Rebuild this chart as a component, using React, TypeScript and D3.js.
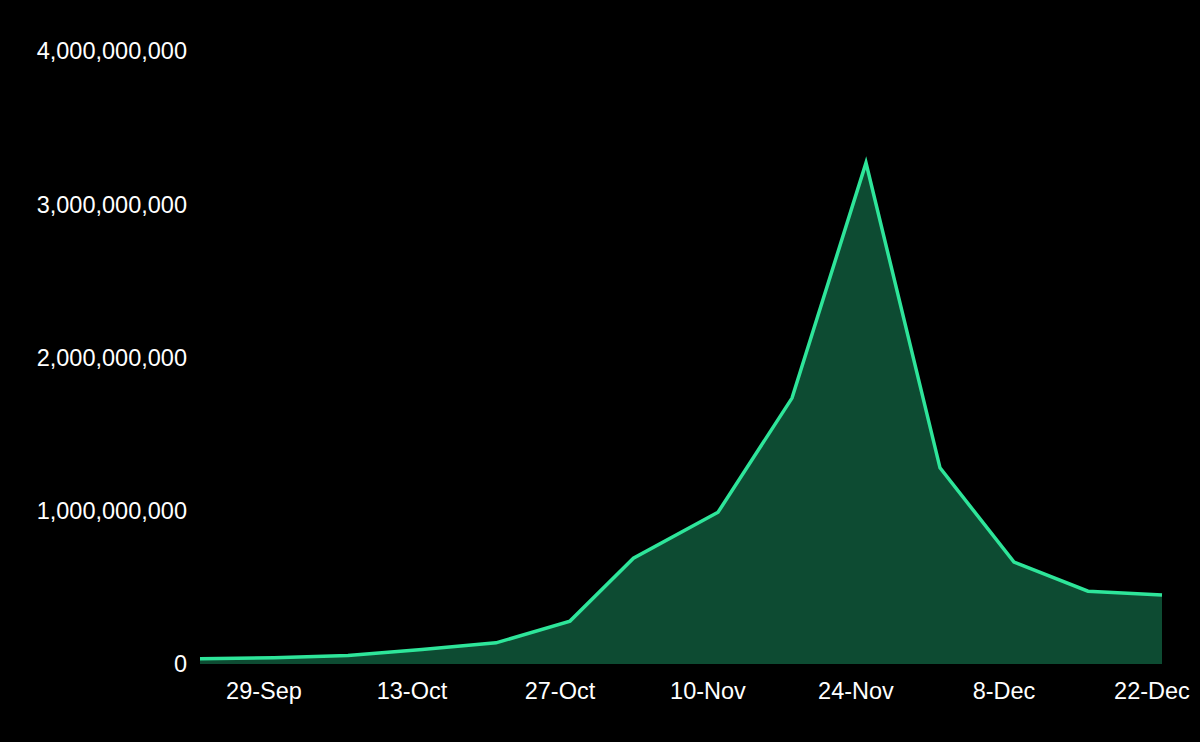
import React from "react";
import * as d3 from "d3";

const dates = [
  "2019-09-22", "2019-09-29", "2019-10-06", "2019-10-13", "2019-10-20", "2019-10-27",
  "2019-11-02", "2019-11-10", "2019-11-17", "2019-11-24", "2019-12-01", "2019-12-08",
  "2019-12-15", "2019-12-22",
];
const values = [
  35e6, 40e6, 55e6, 95e6, 138e6, 280e6, 690e6, 990e6, 1735e6, 3270e6, 1280e6, 665e6, 475e6, 450e6,
];
const xTickDates = ["2019-09-29", "2019-10-13", "2019-10-27", "2019-11-10", "2019-11-24", "2019-12-08", "2019-12-22"];
const yTicks = [0, 1e9, 2e9, 3e9, 4e9];

const W = 1200;
const H = 742;

export default function App() {
  const parse = d3.utcParse("%Y-%m-%d");
  const data = dates.map((d, i) => ({ date: parse(d) as Date, value: values[i] }));
  const x = d3
    .scaleUtc()
    .domain([parse(dates[0]) as Date, parse(dates[dates.length - 1]) as Date])
    .range([200, 1162]);
  const y = d3.scaleLinear().domain([0, 4e9]).range([664, 51]);
  const area = d3
    .area<{ date: Date; value: number }>()
    .x((d) => x(d.date))
    .y0(y(0))
    .y1((d) => y(d.value));
  const line = d3
    .line<{ date: Date; value: number }>()
    .x((d) => x(d.date))
    .y((d) => y(d.value));
  const fmtY = d3.format(",");
  const fmtX = d3.utcFormat("%-d-%b");
  const font = "Liberation Sans, Arial, sans-serif";
  return (
    <svg
      width={W}
      height={H}
      style={{ position: "absolute", left: 0, top: 0, background: "#000" }}
    >
      <rect x={0} y={0} width={W} height={H} fill="#000" />
      <path d={area(data) || ""} fill="#0d4b32" />
      <path d={line(data) || ""} fill="none" stroke="#2ee59a" strokeWidth={3.5} strokeLinejoin="miter" />
      {yTicks.map((t) => (
        <text
          key={t}
          x={187}
          y={y(t)}
          dy="0.36em"
          textAnchor="end"
          fill="#fff"
          fontFamily={font}
          fontSize={23.5}
        >
          {fmtY(t)}
        </text>
      ))}
      {xTickDates.map((d) => {
        const dt = parse(d) as Date;
        return (
          <text
            key={d}
            x={x(dt) - 10}
            y={691}
            dy="0.36em"
            textAnchor="middle"
            fill="#fff"
            fontFamily={font}
            fontSize={23.5}
          >
            {fmtX(dt)}
          </text>
        );
      })}
    </svg>
  );
}
